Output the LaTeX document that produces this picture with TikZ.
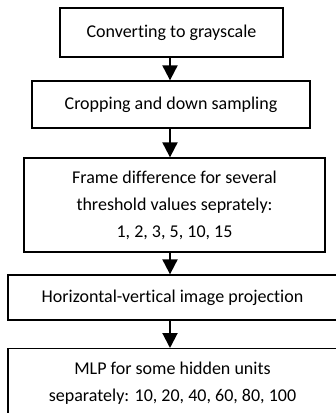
\documentclass[tikz,border=0pt]{standalone}
\usepackage{fontspec}
\setmainfont[Ligatures=NoCommon]{Carlito}
\usetikzlibrary{arrows.meta}
\tikzstyle{stage}=[draw,line width=1.3pt,inner sep=0pt,align=center,font=\fontsize{18}{27}\selectfont]
\tikzstyle{flow}=[line width=2pt,-{Triangle[length=15pt,width=15pt]}]

\begin{document}
\begin{tikzpicture}[x=1pt,y=-1pt]
	\clip (0,0) rectangle (336,413);
	\coordinate (axis) at (170,0);
	\node [stage,minimum width=223pt,minimum height=49pt] (gray) at (171.5,32.5) {Converting to grayscale};
	\node [stage,minimum width=278pt,minimum height=47pt] (crop) at (171,104.5) {Cropping and down sampling};
	\node [stage,minimum width=301pt,minimum height=94pt] (diff) at (174.5,205)
		{Frame difference for several\\threshold values seprately:\\1, 2, 3, 5, 10, 15};
	\node [stage,minimum width=329pt,minimum height=45pt] (proj) at (172.5,297.5) {Horizontal-vertical image projection};
	\node [stage,minimum width=329pt,anchor=north,inner ysep=13pt,text depth=40pt] (mlp) at (172.5,348)
		{MLP for some hidden units\\separately: 10, 20, 40, 60, 80, 100};
	\foreach \a/\b in {gray/crop,crop/diff,diff/proj,proj/mlp}
		\draw [flow] (\a.south -| axis) -- (\b.north -| axis);
\end{tikzpicture}
\end{document}
